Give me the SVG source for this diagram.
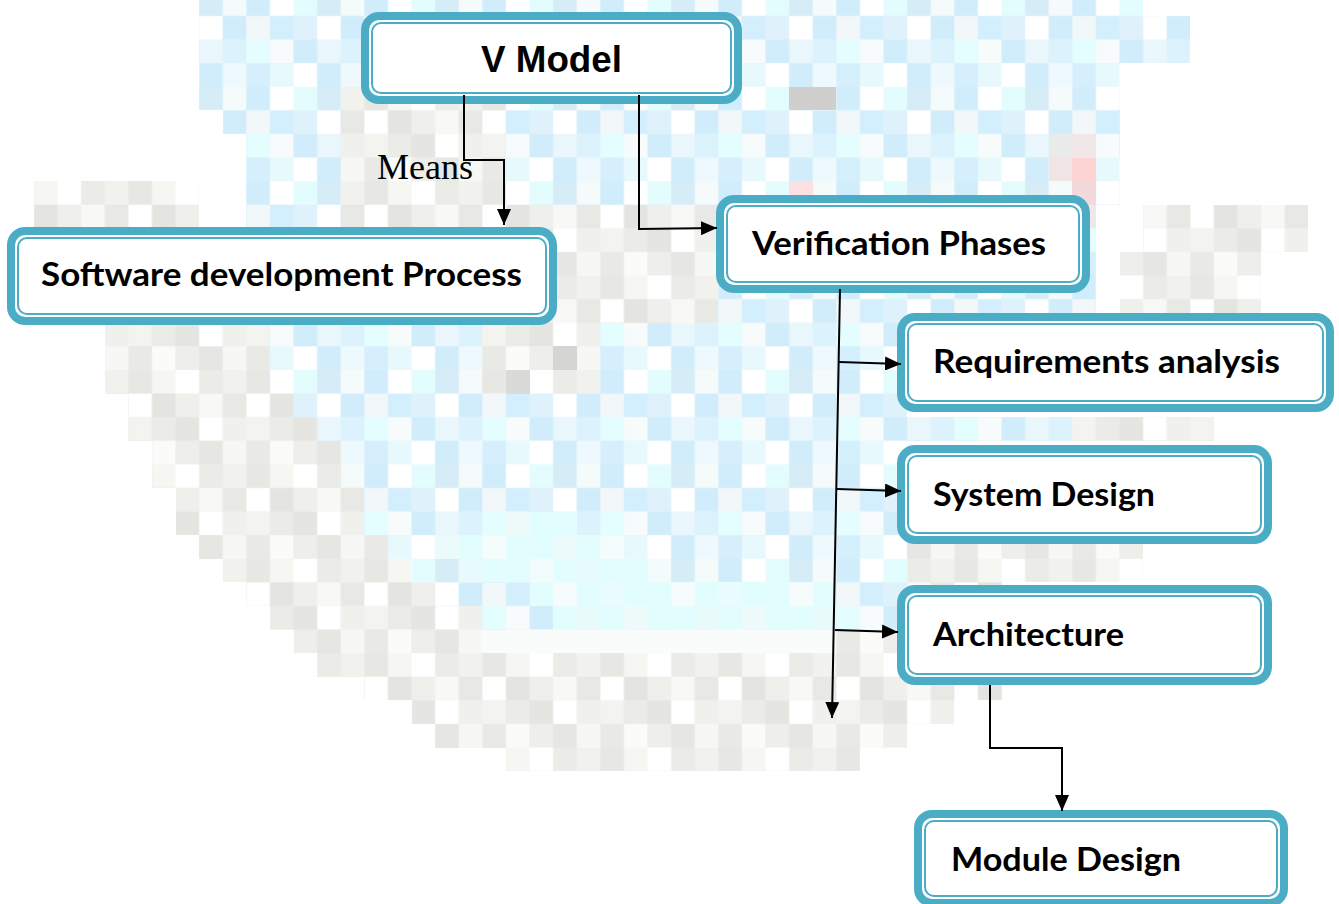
<svg xmlns="http://www.w3.org/2000/svg" width="1339" height="904" viewBox="0 0 1339 904">
<style>
.o{fill:#fff;stroke:#4BACC6;stroke-width:8}
.i{fill:none;stroke:#4BACC6;stroke-width:2}
.t{font-family:Lato,"Noto Sans",sans-serif;font-weight:700;font-size:32px;fill:#000}
.c{fill:none;stroke:#000;stroke-width:2}
.bg rect,.bg path{shape-rendering:crispEdges}
</style>
<defs>
<marker id="ah" markerUnits="userSpaceOnUse" markerWidth="16" markerHeight="14" refX="16" refY="7" orient="auto">
<path d="M0,0 L16,7 L0,14 z" fill="#000"/>
</marker>
<pattern id="pb" patternUnits="userSpaceOnUse" x="10.4" y="-7.6" width="118" height="94.4">
<rect x="0" y="0" width="118" height="94.4" fill="#e6f6fc"/>
<rect x="0" y="0" width="23.7" height="23.7" fill="#d1edfb"/><rect x="23.6" y="0" width="23.7" height="23.7" fill="#ffffff"/><rect x="47.2" y="0" width="23.7" height="23.7" fill="#e3fcfd"/><rect x="70.8" y="0" width="23.7" height="23.7" fill="#d6ecf6"/><rect x="94.4" y="0" width="23.7" height="23.7" fill="#f5fafb"/>
<rect x="0" y="23.6" width="23.7" height="23.7" fill="#f2f8fa"/><rect x="23.6" y="23.6" width="23.7" height="23.7" fill="#d3eefc"/><rect x="47.2" y="23.6" width="23.7" height="23.7" fill="#dff2fb"/><rect x="70.8" y="23.6" width="23.7" height="23.7" fill="#ffffff"/><rect x="94.4" y="23.6" width="23.7" height="23.7" fill="#d1edfb"/>
<rect x="0" y="47.2" width="23.7" height="23.7" fill="#e4fdfe"/><rect x="23.6" y="47.2" width="23.7" height="23.7" fill="#f7fbfb"/><rect x="47.2" y="47.2" width="23.7" height="23.7" fill="#d1edfb"/><rect x="70.8" y="47.2" width="23.7" height="23.7" fill="#e9f6fb"/><rect x="94.4" y="47.2" width="23.7" height="23.7" fill="#dcf2fc"/>
<rect x="0" y="70.8" width="23.7" height="23.7" fill="#d6effc"/><rect x="23.6" y="70.8" width="23.7" height="23.7" fill="#e8f9fd"/><rect x="47.2" y="70.8" width="23.7" height="23.7" fill="#ffffff"/><rect x="70.8" y="70.8" width="23.7" height="23.7" fill="#d1edfb"/><rect x="94.4" y="70.8" width="23.7" height="23.7" fill="#eef9fd"/>
</pattern>
<pattern id="pg" patternUnits="userSpaceOnUse" x="10.4" y="-7.6" width="118" height="94.4">
<rect x="0" y="0" width="118" height="94.4" fill="#efefec"/>
<rect x="0" y="0" width="23.7" height="23.7" fill="#e7e7e3"/><rect x="23.6" y="0" width="23.7" height="23.7" fill="#f6f6f3"/><rect x="47.2" y="0" width="23.7" height="23.7" fill="#ffffff"/><rect x="70.8" y="0" width="23.7" height="23.7" fill="#ebebe7"/><rect x="94.4" y="0" width="23.7" height="23.7" fill="#f1f1ee"/>
<rect x="0" y="23.6" width="23.7" height="23.7" fill="#ffffff"/><rect x="23.6" y="23.6" width="23.7" height="23.7" fill="#e4e4e0"/><rect x="47.2" y="23.6" width="23.7" height="23.7" fill="#efefec"/><rect x="70.8" y="23.6" width="23.7" height="23.7" fill="#f8f8f6"/><rect x="94.4" y="23.6" width="23.7" height="23.7" fill="#e8e8e4"/>
<rect x="0" y="47.2" width="23.7" height="23.7" fill="#f3f3f0"/><rect x="23.6" y="47.2" width="23.7" height="23.7" fill="#ebebe8"/><rect x="47.2" y="47.2" width="23.7" height="23.7" fill="#e5e5e1"/><rect x="70.8" y="47.2" width="23.7" height="23.7" fill="#ffffff"/><rect x="94.4" y="47.2" width="23.7" height="23.7" fill="#f0f0ed"/>
<rect x="0" y="70.8" width="23.7" height="23.7" fill="#e9e9e5"/><rect x="23.6" y="70.8" width="23.7" height="23.7" fill="#fbfbf9"/><rect x="47.2" y="70.8" width="23.7" height="23.7" fill="#eeeeea"/><rect x="70.8" y="70.8" width="23.7" height="23.7" fill="#e6e6e2"/><rect x="94.4" y="70.8" width="23.7" height="23.7" fill="#f7f7f5"/>
</pattern>
<pattern id="pc" patternUnits="userSpaceOnUse" x="10.4" y="-7.6" width="118" height="94.4">
<rect x="0" y="0" width="118" height="94.4" fill="#e2fdfe"/>
<rect x="47.2" y="0" width="23.7" height="23.7" fill="#f2fcfc"/><rect x="94.4" y="0" width="23.7" height="23.7" fill="#e8fbfc"/>
<rect x="0" y="23.6" width="23.7" height="23.7" fill="#eafcfd"/><rect x="70.8" y="23.6" width="23.7" height="23.7" fill="#f6fcfc"/>
<rect x="23.6" y="47.2" width="23.7" height="23.7" fill="#effbfb"/><rect x="94.4" y="47.2" width="23.7" height="23.7" fill="#e9fafb"/>
<rect x="0" y="70.8" width="23.7" height="23.7" fill="#f5fcfc"/><rect x="70.8" y="70.8" width="23.7" height="23.7" fill="#ebfbfc"/>
</pattern>
</defs>
<rect x="0" y="0" width="1339" height="904" fill="#fff"/>
<g id="background" class="bg">
<path fill="url(#pb)" d="M199.2,-7.6 H1143.2 V16 H1190.4 V63.2 H1119.6 V204.8 H1096 V322.8 H246.4 V134 H222.8 V110.4 H199.2 Z"/>
<rect x="340.8" y="86.8" width="165.2" height="236" fill="url(#pg)"/>
<rect x="506" y="204.8" width="212.4" height="118" fill="url(#pg)"/>
<rect x="34" y="181.2" width="165.2" height="47.2" fill="url(#pg)"/>
<rect x="1143.2" y="204.8" width="165.2" height="47.2" fill="url(#pg)"/>
<rect x="1119.6" y="252" width="141.6" height="70.8" fill="url(#pg)"/>
<rect x="789.2" y="86.8" width="47.2" height="23.6" fill="#d0cfcd"/>
<rect x="1048.8" y="134" width="23.6" height="23.6" fill="#e9ebeb"/>
<rect x="1072.4" y="134" width="23.6" height="23.6" fill="#f1e6e8"/>
<rect x="1048.8" y="157.6" width="23.6" height="23.6" fill="#f0e4e5"/>
<rect x="1072.4" y="157.6" width="23.6" height="23.6" fill="#fdd5d5"/>
<rect x="1072.4" y="181.2" width="23.6" height="23.6" fill="#f3d9db"/>
<rect x="1072.4" y="204.8" width="23.6" height="23.6" fill="#f0e8e8"/>
<rect x="789.2" y="181.2" width="23.6" height="23.6" fill="#fce0e2"/>
<path fill="url(#pg)" d="M104.8,322.8 H907.2 V535.2 H1001.6 V700.4 H954.4 V724 H907.2 V747.6 H860 V771.2 H506 V747.6 H435.2 V724 H411.6 V700.4 H364.4 V676.8 H317.2 V653.2 H293.6 V629.6 H270 V606 H246.4 V582.4 H222.8 V558.8 H199.2 V535.2 H175.6 V488 H152 V440.8 H128.4 V393.6 H104.8 Z"/>
<path fill="url(#pb)" d="M270,322.8 H907.2 V629.6 H482.4 V606 H435.2 V582.4 H411.6 V558.8 H388 V535.2 H364.4 V488 H340.8 V440.8 H317.2 V417.2 H293.6 V393.6 H270 Z"/>
<rect x="482.4" y="322.8" width="118" height="70.8" fill="url(#pg)"/>
<rect x="553.2" y="346.4" width="23.6" height="23.6" fill="#d5d5d3"/>
<rect x="506" y="370" width="23.6" height="23.6" fill="#dadad8"/>
<path fill="url(#pc)" d="M506,511.6 H577 V535.2 H624 V558.8 H671.2 V582.4 H836.4 V629.6 H553.2 V606 H529.6 V582.4 H458.8 V558.8 H435.2 V535.2 H506 Z"/>
<rect x="482.4" y="629.6" width="354" height="23.6" fill="#fafcfc"/>
<rect x="907.2" y="417.2" width="165.2" height="23.6" fill="url(#pb)"/>
<rect x="1072.4" y="417.2" width="141.6" height="23.6" fill="url(#pg)"/>
<rect x="954.4" y="535.2" width="188.8" height="47.2" fill="url(#pg)"/>
</g>
<g id="node-vmodel">
<rect class="o" x="365" y="16" width="373" height="84" rx="14"/>
<rect class="i" x="372" y="23" width="359" height="70" rx="9"/>
<text x="481" y="72" font-family="'Liberation Sans',Arial,sans-serif" font-weight="700" font-size="37" textLength="141" lengthAdjust="spacingAndGlyphs">V Model</text>
</g>
<g id="node-sdp">
<rect class="o" x="11" y="231" width="542" height="90" rx="14"/>
<rect class="i" x="18" y="238" width="528" height="76" rx="9"/>
<text class="t" x="41" y="286" textLength="481" lengthAdjust="spacingAndGlyphs">Software development Process</text>
</g>
<g id="node-vp">
<rect class="o" x="720" y="199" width="366" height="90" rx="14"/>
<rect class="i" x="727" y="206" width="352" height="76" rx="9"/>
<text class="t" x="752" y="255" textLength="294" lengthAdjust="spacingAndGlyphs">Verification Phases</text>
</g>
<g id="node-ra">
<rect class="o" x="901" y="317" width="429" height="91" rx="14"/>
<rect class="i" x="908" y="324" width="415" height="77" rx="9"/>
<text class="t" x="933" y="373" textLength="347" lengthAdjust="spacingAndGlyphs">Requirements analysis</text>
</g>
<g id="node-sd">
<rect class="o" x="901" y="449" width="367" height="91" rx="14"/>
<rect class="i" x="908" y="456" width="353" height="77" rx="9"/>
<text class="t" x="933" y="506" textLength="222" lengthAdjust="spacingAndGlyphs">System Design</text>
</g>
<g id="node-ar">
<rect class="o" x="901" y="589" width="367" height="92" rx="14"/>
<rect class="i" x="908" y="596" width="353" height="78" rx="9"/>
<text class="t" x="933" y="646" textLength="191" lengthAdjust="spacingAndGlyphs">Architecture</text>
</g>
<g id="node-md">
<rect class="o" x="918" y="814" width="366" height="89" rx="14"/>
<rect class="i" x="925" y="821" width="352" height="75" rx="9"/>
<text class="t" x="951" y="871" textLength="230" lengthAdjust="spacingAndGlyphs">Module Design</text>
</g>
<g id="connectors">
<path class="c" d="M464,95 V160 H504 V225" marker-end="url(#ah)"/>
<text x="377" y="179" font-family="'Liberation Serif','Times New Roman',serif" font-size="36">Means</text>
<path class="c" d="M639,95 V229 L717,228" marker-end="url(#ah)"/>
<path class="c" d="M840,289 L832,718" marker-end="url(#ah)"/>
<path class="c" d="M839,362 L901,364" marker-end="url(#ah)"/>
<path class="c" d="M837,489 L901,491" marker-end="url(#ah)"/>
<path class="c" d="M835,630 L898,632" marker-end="url(#ah)"/>
<path class="c" d="M990,685 V748 H1062 V811" marker-end="url(#ah)"/>
</g>
</svg>
